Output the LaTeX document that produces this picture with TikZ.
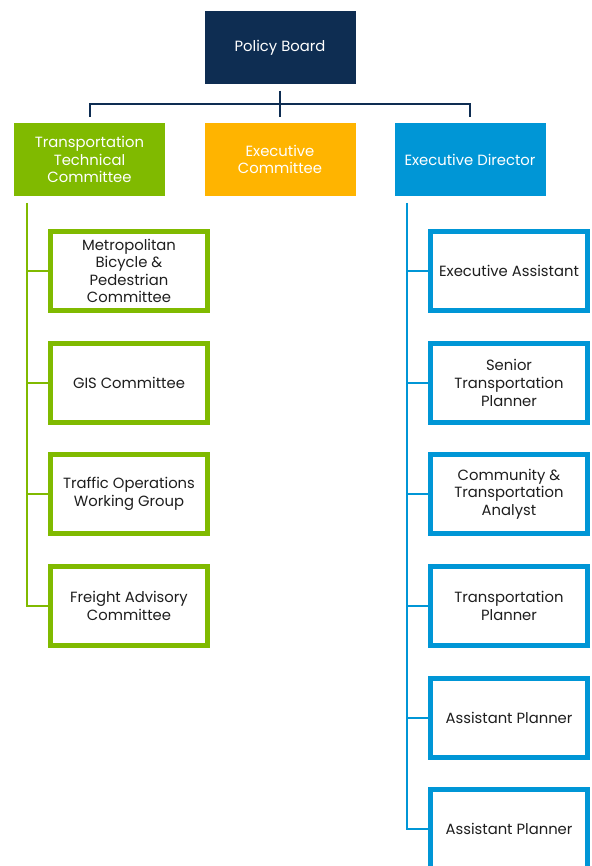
\documentclass[tikz,border=0pt]{standalone}
\usepackage{fontspec}
\setmainfont{Poppins}
\usetikzlibrary{positioning}
\definecolor{boardnavy}{RGB}{14,45,82}
\definecolor{tacgreen}{RGB}{128,186,0}
\definecolor{execorange}{RGB}{255,180,0}
\definecolor{staffblue}{RGB}{0,150,214}
\definecolor{boxtext}{RGB}{30,30,30}
\tikzset{
    every node/.style={align=center, font=\fontsize{14.8}{17.6}\selectfont},
    headbox/.style={rectangle, minimum width=151pt, minimum height=73pt,
        inner sep=2pt, text=white},
    groupbox/.style={rectangle, draw=tacgreen, line width=5pt, fill=white,
        minimum width=157pt, minimum height=79pt, inner sep=2pt, text=boxtext},
    staffbox/.style={groupbox, draw=staffblue},
    boardline/.style={draw=boardnavy, line width=2pt},
    greenline/.style={draw=tacgreen, line width=2pt},
    blueline/.style={draw=staffblue, line width=2pt}
}

\begin{document}
\begin{tikzpicture}[x=1pt, y=-1pt]
	\useasboundingbox (0,0) rectangle (591,866);
	\node (pb) [headbox, fill=boardnavy] at (280,48) {Policy Board};
	\node (ttc) [headbox, fill=tacgreen] at (89.5,159.5) {Transportation\\Technical\\Committee};
	\node (ec) [headbox, fill=execorange] at (280,159.5) {Executive\\Committee};
	\node (ed) [headbox, fill=staffblue] at (470,159.5) {Executive Director};
	
	\node (mbp) [groupbox] at (129,271) {Metropolitan\\Bicycle \&\\Pedestrian\\Committee};
	\node (gis) [groupbox] at (129,383) {GIS Committee};
	\node (tow) [groupbox] at (129,494) {Traffic Operations\\Working Group};
	\node (fac) [groupbox] at (129,606) {Freight Advisory\\Committee};
	
	\node (ea) [staffbox] at (509,271) {Executive Assistant};
	\node (stp) [staffbox] at (509,383) {Senior\\Transportation\\Planner};
	\node (cta) [staffbox] at (509,494) {Community \&\\Transportation\\Analyst};
	\node (tp) [staffbox] at (509,606) {Transportation\\Planner};
	\node (ap1) [staffbox] at (509,718) {Assistant Planner};
	\node (ap2) [staffbox] at (509,829) {Assistant Planner};
	
	% board to the three heads
	\coordinate (bar) at (280,104);
	\draw [boardline, shorten <=6pt] (pb) -- (bar);
	\draw [boardline, shorten <=6pt] (ec) -- (bar);
	\draw [boardline, shorten <=6pt, shorten >=6pt] (ttc) |- (bar) -| (ed);
	
	% committees under the TTC
	\coordinate (ttctop) at (27,203);
	\draw [greenline] (ttctop) |- (fac);
	\draw [greenline] (ttctop |- mbp) -- (mbp);
	\draw [greenline] (ttctop |- gis) -- (gis);
	\draw [greenline] (ttctop |- tow) -- (tow);
	
	% staff under the director
	\coordinate (edtop) at (407,203);
	\draw [blueline] (edtop) |- (ap2);
	\draw [blueline] (edtop |- ea) -- (ea);
	\draw [blueline] (edtop |- stp) -- (stp);
	\draw [blueline] (edtop |- cta) -- (cta);
	\draw [blueline] (edtop |- tp) -- (tp);
	\draw [blueline] (edtop |- ap1) -- (ap1);
\end{tikzpicture}
\end{document}
